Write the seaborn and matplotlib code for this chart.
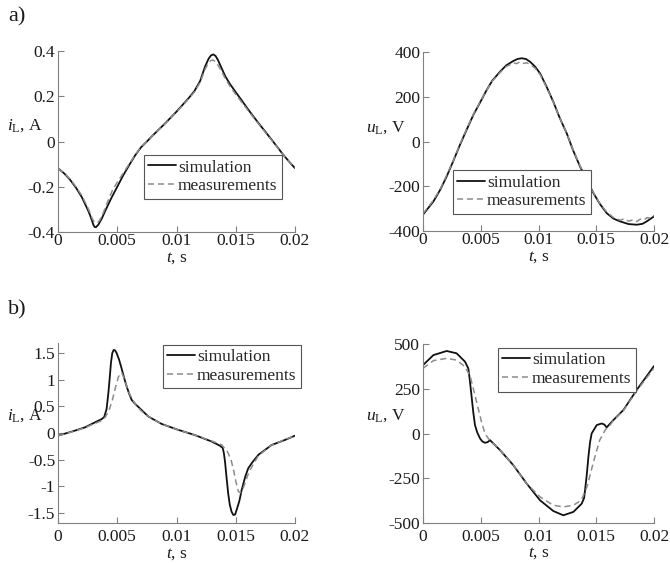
import matplotlib
matplotlib.use("Agg")
import matplotlib.pyplot as plt
import seaborn as sns
import pandas as pd

# ---- data ----
# a) left: inductor current
t_a1_sim = [0, 0.0005, 0.001, 0.0015, 0.002, 0.0025, 0.0027, 0.0029, 0.003, 0.0031,
            0.0032, 0.0034, 0.0037, 0.004, 0.0045, 0.005, 0.0055, 0.006, 0.0065, 0.007,
            0.0075, 0.008, 0.009, 0.01, 0.011, 0.0115, 0.012, 0.0124, 0.0127, 0.0129,
            0.0131, 0.0133, 0.0135, 0.0138, 0.0141, 0.0145, 0.015, 0.0155, 0.016, 0.0165,
            0.017, 0.0175, 0.018, 0.0185, 0.019, 0.0195, 0.02]
i_a1_sim = [-0.118, -0.14, -0.168, -0.203, -0.245, -0.3, -0.325, -0.355, -0.37, -0.378,
            -0.379, -0.368, -0.34, -0.305, -0.25, -0.2, -0.15, -0.105, -0.062, -0.026,
            0.0, 0.027, 0.078, 0.132, 0.19, 0.222, 0.268, 0.33, 0.365, 0.38,
            0.385, 0.378, 0.36, 0.325, 0.29, 0.255, 0.218, 0.182, 0.145, 0.11,
            0.076, 0.043, 0.01, -0.024, -0.058, -0.089, -0.118]
t_a1_meas = [0, 0.0005, 0.001, 0.0015, 0.002, 0.0025, 0.0027, 0.0029, 0.0031, 0.0033,
             0.0035, 0.0038, 0.0042, 0.0046, 0.005, 0.0055, 0.006, 0.0065, 0.007, 0.0075,
             0.008, 0.009, 0.01, 0.011, 0.0115, 0.012, 0.0124, 0.0127, 0.0129, 0.0131,
             0.0133, 0.0135, 0.0138, 0.0141, 0.0145, 0.015, 0.0155, 0.016, 0.0165, 0.017,
             0.0175, 0.018, 0.0185, 0.019, 0.0195, 0.02]
i_a1_meas = [-0.118, -0.139, -0.165, -0.199, -0.238, -0.29, -0.315, -0.342, -0.358, -0.36,
             -0.35, -0.318, -0.265, -0.215, -0.18, -0.14, -0.1, -0.06, -0.026, 0.0,
             0.027, 0.077, 0.13, 0.187, 0.218, 0.262, 0.318, 0.348, 0.358, 0.36,
             0.352, 0.338, 0.31, 0.28, 0.245, 0.208, 0.174, 0.14, 0.106, 0.073,
             0.04, 0.008, -0.025, -0.058, -0.089, -0.118]

# a) right: inductor voltage
t_a2_sim = [0, 0.0009, 0.0015, 0.00205, 0.0026, 0.0032, 0.0038, 0.00436, 0.005, 0.00551,
            0.006, 0.00667, 0.0072, 0.00782, 0.0082, 0.00854, 0.0089, 0.00926, 0.0097, 0.01013,
            0.0107, 0.01128, 0.0118, 0.01244, 0.013, 0.01359, 0.0142, 0.01475, 0.0153, 0.0159,
            0.0165, 0.01706, 0.0178, 0.0185, 0.019, 0.01937, 0.02]
u_a2_sim = [-327, -268, -215, -156, -90, -15, 55, 119, 180, 230,
            272, 312, 340, 360, 369, 372, 369, 357, 335, 305,
            245, 178, 110, 37, -40, -111, -175, -230, -278, -320,
            -345, -357, -369, -372, -368, -357, -335]
t_a2_meas = [0, 0.0005, 0.0009, 0.0015, 0.00205, 0.0026, 0.0032, 0.0038, 0.00436, 0.005,
             0.00551, 0.006, 0.00667, 0.0072, 0.0075, 0.00782, 0.0081, 0.0084, 0.0087, 0.009,
             0.0093, 0.0097, 0.01013, 0.0107, 0.01128, 0.0118, 0.01244, 0.013, 0.01359, 0.0142,
             0.01475, 0.0153, 0.0159, 0.0165, 0.0171, 0.0174, 0.0178, 0.0182, 0.0185, 0.0188,
             0.0191, 0.0194, 0.0197, 0.02]
u_a2_meas = [-322, -290, -262, -212, -150, -88, -12, 58, 121, 182,
             229, 270, 308, 335, 342, 352, 348, 356, 349, 352,
             343, 328, 300, 242, 176, 110, 38, -38, -108, -172,
             -228, -276, -315, -340, -352, -345, -356, -350, -358, -347,
             -352, -340, -343, -330]

# b) left: inductor current
t_b1_sim = [0, 0.00115, 0.00228, 0.00312, 0.00368, 0.0039, 0.0041, 0.00425, 0.00437, 0.00447,
            0.00458, 0.0047, 0.00482, 0.00495, 0.00515, 0.00537, 0.0056, 0.0058, 0.006, 0.00622,
            0.0065, 0.00678, 0.00762, 0.00875, 0.01, 0.01156, 0.01297, 0.01367, 0.0139, 0.014,
            0.0141, 0.01423, 0.01437, 0.0145, 0.01465, 0.0148, 0.01495, 0.01508, 0.0153, 0.0155,
            0.0158, 0.01606, 0.0164, 0.01691, 0.01803, 0.01916, 0.02]
i_b1_sim = [-0.05, 0.025, 0.106, 0.2, 0.26, 0.3, 0.45, 0.75, 1.05, 1.32,
            1.5, 1.56, 1.55, 1.5, 1.38, 1.21, 1.02, 0.87, 0.74, 0.62,
            0.55, 0.49, 0.31, 0.17, 0.07, -0.04, -0.16, -0.24, -0.28, -0.38,
            -0.55, -0.85, -1.15, -1.35, -1.48, -1.54, -1.53, -1.44, -1.28, -1.07,
            -0.82, -0.66, -0.55, -0.41, -0.225, -0.13, -0.05]
t_b1_meas = [0, 0.00115, 0.00228, 0.00312, 0.00368, 0.004, 0.0043, 0.0046, 0.0049, 0.0051,
             0.00523, 0.0054, 0.0056, 0.0058, 0.006, 0.0063, 0.0066, 0.007, 0.00762, 0.00875,
             0.01, 0.01156, 0.01297, 0.0138, 0.0143, 0.0146, 0.0148, 0.015, 0.01522, 0.0154,
             0.0156, 0.0158, 0.016, 0.0162, 0.0165, 0.0169, 0.018, 0.0192, 0.02]
i_b1_meas = [-0.05, 0.02, 0.1, 0.18, 0.23, 0.3, 0.42, 0.63, 0.9, 1.05,
             1.12, 1.12, 1.02, 0.88, 0.75, 0.62, 0.52, 0.42, 0.31, 0.17,
             0.07, -0.04, -0.15, -0.22, -0.35, -0.5, -0.68, -0.9, -1.1, -1.12,
             -1.05, -0.93, -0.8, -0.7, -0.58, -0.43, -0.23, -0.12, -0.05]

# b) right: inductor voltage
t_b2_sim = [0, 0.0009, 0.00205, 0.00291, 0.00364, 0.00392, 0.00405, 0.00421, 0.00435, 0.0045,
            0.0047, 0.00494, 0.00515, 0.00537, 0.0056, 0.0058, 0.00667, 0.00782, 0.00898, 0.01013,
            0.01128, 0.01215, 0.01302, 0.01374, 0.01395, 0.01403, 0.01418, 0.01432, 0.01446, 0.0146,
            0.01504, 0.01547, 0.0157, 0.0159, 0.01648, 0.01735, 0.0185, 0.02]
u_b2_sim = [382, 438, 461, 448, 401, 364, 300, 205, 120, 47,
            5, -28, -45, -52, -48, -37, -93, -177, -280, -373,
            -433, -457, -438, -392, -360, -317, -230, -131, -50, 0,
            47, 56, 50, 34, 75, 131, 243, 377]
t_b2_meas = [0, 0.0009, 0.00205, 0.00291, 0.00364, 0.0041, 0.0046, 0.0051, 0.00537, 0.00566,
             0.0058, 0.00667, 0.00782, 0.00898, 0.01013, 0.01128, 0.01215, 0.01302, 0.0137, 0.0142,
             0.0148, 0.0153, 0.0158, 0.0162, 0.0165, 0.01735, 0.0185, 0.02]
u_b2_meas = [364, 407, 420, 410, 373, 317, 187, 56, 0, -28,
             -37, -93, -177, -280, -354, -401, -410, -401, -373, -298,
             -149, -37, 22, 47, 75, 128, 238, 365]

x_ticks = [0, 0.005, 0.01, 0.015, 0.02]
x_ticklabels = ['0', '0.005', '0.01', '0.015', '0.02']
y_ticks_a1 = [-0.4, -0.2, 0, 0.2, 0.4]
y_ticklabels_a1 = ['-0.4', '-0.2', '0', '0.2', '0.4']
y_ticks_a2 = [-400, -200, 0, 200, 400]
y_ticklabels_a2 = ['-400', '-200', '0', '200', '400']
y_ticks_b1 = [-1.5, -1, -0.5, 0, 0.5, 1, 1.5]
y_ticklabels_b1 = ['-1.5', '-1', '-0.5', '0', '0.5', '1', '1.5']
y_ticks_b2 = [-500, -250, 0, 250, 500]
y_ticklabels_b2 = ['-500', '-250', '0', '250', '500']

# ---- style ----
sns.set_theme(style="ticks")
plt.rcParams['font.family'] = ['Liberation Serif', 'DejaVu Serif']
plt.rcParams['mathtext.fontset'] = 'custom'
plt.rcParams['mathtext.rm'] = 'Liberation Serif'
plt.rcParams['mathtext.it'] = 'Liberation Serif:italic'
plt.rcParams['axes.unicode_minus'] = False

SIM_COLOR = '#111111'
MEAS_COLOR = '#8c8c8c'
SPINE_COLOR = '#808080'
FS = 12.5

fig = plt.figure(figsize=(6.7, 5.63), dpi=100)

# axes rectangles in figure fractions (left, bottom, width, height)
ax_a1 = fig.add_axes([58/670, 1 - 232/563, 237/670, 181/563])
ax_a2 = fig.add_axes([423/670, 1 - 231/563, 231/670, 179/563])
ax_b1 = fig.add_axes([58/670, 1 - 523/563, 237/670, 180/563])
ax_b2 = fig.add_axes([423/670, 1 - 523/563, 231/670, 179/563])


def draw_panel(ax, t_sim, y_sim, t_meas, y_meas, ylim, yticks, yticklabels,
               ylabel, ylabel_xy, leg_anchor, xpad):
    df_sim = pd.DataFrame({'t': t_sim, 'y': y_sim})
    df_meas = pd.DataFrame({'t': t_meas, 'y': y_meas})
    sns.lineplot(data=df_sim, x='t', y='y', ax=ax, color=SIM_COLOR, lw=1.3,
                 label='simulation', sort=False, estimator=None)
    sns.lineplot(data=df_meas, x='t', y='y', ax=ax, color=MEAS_COLOR, lw=1.1,
                 label='measurements', sort=False, estimator=None, linestyle=(0, (4, 2.5)))
    ax.set_xlim(0, 0.02)
    ax.set_ylim(*ylim)
    ax.set_xticks(x_ticks)
    ax.set_xticklabels(x_ticklabels)
    ax.set_yticks(yticks)
    ax.set_yticklabels(yticklabels)
    for side in ['top', 'right']:
        ax.spines[side].set_visible(False)
    for side in ['left', 'bottom']:
        ax.spines[side].set_color(SPINE_COLOR)
        ax.spines[side].set_linewidth(0.8)
    ax.tick_params(axis='both', direction='in', length=4, width=0.8,
                   color=SPINE_COLOR, labelsize=FS, labelcolor='#1a1a1a')
    ax.tick_params(axis='x', pad=xpad)
    ax.tick_params(axis='y', pad=2)
    ax.set_xlabel(r'$t$, s', fontsize=FS, color='#1a1a1a')
    ax.set_ylabel(ylabel, fontsize=FS, rotation=0, ha='center', va='center', color='#1a1a1a')
    ax.yaxis.set_label_coords(*ylabel_xy)
    leg = ax.legend(loc='upper left', bbox_to_anchor=leg_anchor, fontsize=FS,
                    handlelength=1.6, handletextpad=0.1, borderpad=0.25,
                    labelspacing=0.15, borderaxespad=0, fancybox=False,
                    framealpha=1, edgecolor='#555555')
    leg.get_frame().set_linewidth(0.8)


draw_panel(ax_a1, t_a1_sim, i_a1_sim, t_a1_meas, i_a1_meas, (-0.4, 0.4),
           y_ticks_a1, y_ticklabels_a1, r'$i_{\rm L}$, A', (-0.14, 0.59),
           (0.363, 0.425), 1)
ax_a1.xaxis.set_label_coords(0.5, -0.1)

draw_panel(ax_a2, t_a2_sim, u_a2_sim, t_a2_meas, u_a2_meas, (-400, 400),
           y_ticks_a2, y_ticklabels_a2, r'$u_{\rm L}$, V', (-0.16, 0.58),
           (0.13, 0.34), 1)
ax_a2.xaxis.set_label_coords(0.5, -0.1)

draw_panel(ax_b1, t_b1_sim, i_b1_sim, t_b1_meas, i_b1_meas, (-1.69, 1.69),
           y_ticks_b1, y_ticklabels_b1, r'$i_{\rm L}$, A', (-0.14, 0.594),
           (0.443, 0.99), 4)
ax_b1.xaxis.set_label_coords(0.5, -0.125)

draw_panel(ax_b2, t_b2_sim, u_b2_sim, t_b2_meas, u_b2_meas, (-500, 500),
           y_ticks_b2, y_ticklabels_b2, r'$u_{\rm L}$, V', (-0.16, 0.6),
           (0.325, 0.978), 4)
ax_b2.xaxis.set_label_coords(0.5, -0.125)

fig.text(8/670, 1 - 17/563, 'a)', fontsize=16, ha='left', va='center', color='#1a1a1a')
fig.text(8/670, 1 - 310/563, 'b)', fontsize=16, ha='left', va='center', color='#1a1a1a')

fig.savefig('out.png', dpi=100)
